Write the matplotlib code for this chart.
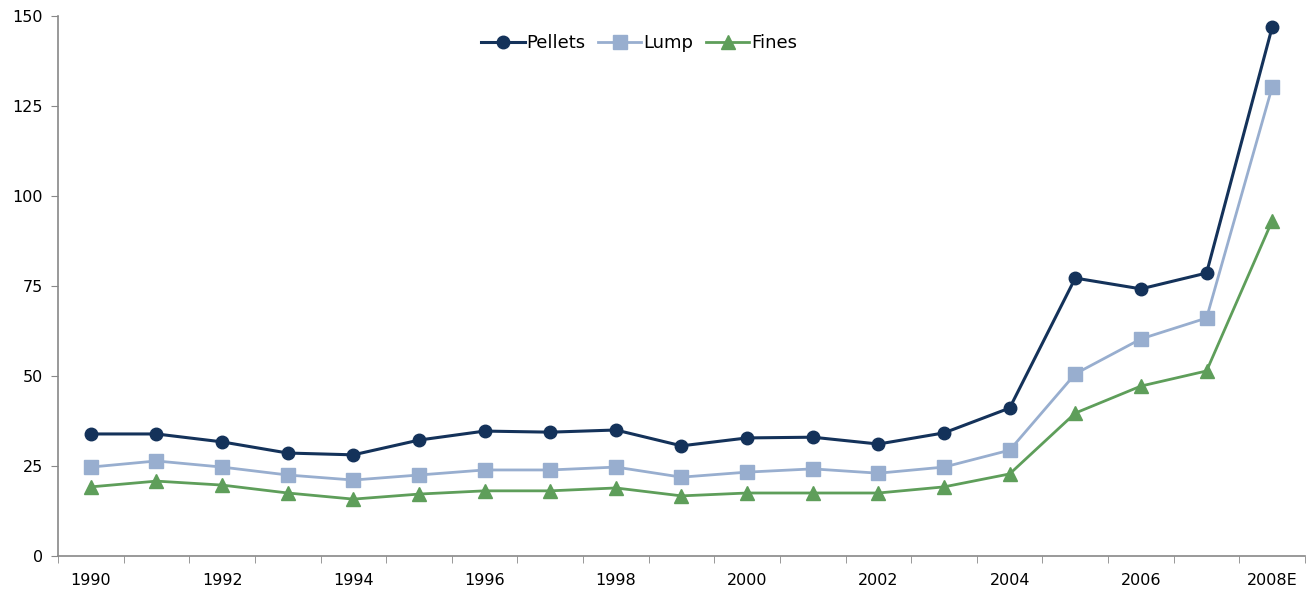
import matplotlib
matplotlib.use("Agg")
import matplotlib.pyplot as plt
import numpy as np

years = ["1990", "1991", "1992", "1993", "1994", "1995", "1996", "1997", "1998", "1999",
         "2000", "2001", "2002", "2003", "2004", "2005", "2006", "2007", "2008E"]
pellets = [33.9, 33.9, 31.7, 28.6, 28.1, 32.2, 34.7, 34.4, 35.0, 30.6,
           32.8, 33.0, 31.1, 34.2, 41.1, 77.2, 74.2, 78.6, 146.9]
lump = [24.7, 26.4, 24.7, 22.5, 21.1, 22.5, 23.9, 23.9, 24.7, 21.9,
        23.3, 24.2, 23.0, 24.7, 29.4, 50.6, 60.3, 66.1, 130.3]
fines = [19.2, 20.8, 19.7, 17.5, 15.8, 17.2, 18.1, 18.1, 18.9, 16.7,
         17.5, 17.5, 17.5, 19.2, 22.8, 39.7, 47.2, 51.4, 93.1]
yticks = [0, 25, 50, 75, 100, 125, 150]

fig = plt.figure(figsize=(13.12, 5.99), dpi=100)
ax = fig.add_axes([58/1312, 43/599, (1305-58)/1312, (556-16)/599])

x = np.arange(len(years))
ax.plot(x, pellets, color="#14325A", lw=2.2, marker="o", ms=9, label="Pellets", zorder=5)
ax.plot(x, lump, color="#98AECF", lw=2.0, marker="s", ms=9.5, label="Lump", zorder=4)
ax.plot(x, fines, color="#5E9E5A", lw=2.0, marker="^", ms=10, label="Fines", zorder=3)

ax.set_xlim(-0.5, len(years) - 0.5)
ax.set_ylim(0, 150)
ax.set_yticks(yticks)
ax.set_yticklabels([str(v) for v in yticks], fontsize=11.5)
ax.set_xticks(x[::2])
ax.set_xticklabels(years[::2], fontsize=11.5)
ax.set_xticks(np.arange(len(years) + 1) - 0.5, minor=True)
ax.tick_params(axis="x", which="major", length=0, pad=12)
ax.tick_params(axis="x", which="minor", length=5, color="#888888", direction="out")
ax.tick_params(axis="y", length=5, color="#888888", direction="out", pad=6)

for s in ["top", "right"]:
    ax.spines[s].set_visible(False)
for s in ["left", "bottom"]:
    ax.spines[s].set_color("#888888")
    ax.spines[s].set_linewidth(1.2)

ax.legend(loc="upper center", bbox_to_anchor=(0.466, 0.996), ncol=3, frameon=False,
          fontsize=13, handlelength=2.4, handletextpad=0.1, columnspacing=0.7)

fig.savefig("out.png", dpi=100)
